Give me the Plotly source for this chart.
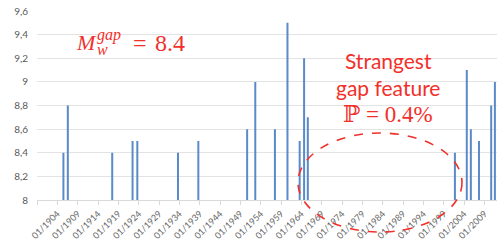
import plotly.graph_objects as go

# ---- data ----
dates = ["1905-07-01", "1906-08-01", "1917-07-01", "1922-07-01", "1923-09-01",
         "1933-09-01", "1938-09-01", "1950-09-01", "1952-09-01", "1957-07-01",
         "1960-08-01", "1963-08-01", "1964-09-01", "1965-08-01", "2001-10-01",
         "2004-09-01", "2005-09-01", "2007-09-01", "2010-09-01", "2011-08-01"]
magnitudes = [8.4, 8.8, 8.4, 8.5, 8.5,
              8.4, 8.5, 8.6, 9.0, 8.6,
              9.5, 8.5, 9.2, 8.7, 8.4,
              9.1, 8.6, 8.5, 8.8, 9.0]
x_tick_vals = ["1899-01-01"] + [f"{y}-01-01" for y in range(1904, 2010, 5)]
x_tick_text = [""] + [f"01/{y}" for y in range(1904, 2010, 5)]
y_tick_vals = [8.0, 8.2, 8.4, 8.6, 8.8, 9.0, 9.2, 9.4, 9.6]
y_tick_text = ["8", "8,2", "8,4", "8,6", "8,8", "9", "9,2", "9,4", "9,6"]

W, H = 497, 242
L, R, T, B = 37, 0, 11, 42
PW, PH = W - L - R, H - T - B

def px(x):
    return (x - L) / PW

def py(y):
    return (H - B - y) / PH

RED = "#f2302b"
BLUE = "#5b8ac8"

fig = go.Figure()
fig.add_trace(go.Bar(
    x=dates, y=magnitudes, base=0,
    marker=dict(color=BLUE, line=dict(width=0)),
    width=180 * 86400000,
))

fig.update_layout(
    width=W, height=H,
    margin=dict(l=L, r=R, t=T, b=B, autoexpand=False),
    paper_bgcolor="white", plot_bgcolor="white",
    showlegend=False,
    font=dict(family="Lato, Liberation Sans, sans-serif", color="#595959", size=9),
    xaxis=dict(
        type="date",
        range=["1899-01-01", "2012-02-05"],
        tickvals=x_tick_vals, ticktext=x_tick_text,
        tickangle=-45,
        showgrid=False,
        showline=True, linecolor="#d9d9d9", linewidth=1,
        ticks="outside", ticklen=4, tickcolor="#d9d9d9",
        tickfont=dict(size=9, color="#666666"),
        zeroline=False,
    ),
    yaxis=dict(
        range=[8, 9.6],
        tickvals=y_tick_vals, ticktext=y_tick_text,
        showgrid=True, gridcolor="#e3e3e3", gridwidth=1,
        zeroline=False, showline=False, ticks="",
        ticklabelstandoff=8,
        tickfont=dict(size=10, color="#595959"),
    ),
)

serif = "Liberation Serif, DejaVu Serif, serif"
ann = []
ann.append(dict(text="<i>M</i>", x=px(74), y=py(42), xanchor="left", yanchor="middle",
                font=dict(family=serif, size=22, color=RED)))
ann.append(dict(text="<i>gap</i>", x=px(95), y=py(35), xanchor="left", yanchor="middle",
                font=dict(family=serif, size=16, color=RED)))
ann.append(dict(text="<i>w</i>", x=px(95), y=py(49), xanchor="left", yanchor="middle",
                font=dict(family=serif, size=16, color=RED)))
ann.append(dict(text="=", x=px(131), y=py(43), xanchor="left", yanchor="middle",
                font=dict(family=serif, size=24, color=RED)))
ann.append(dict(text="8.4", x=px(153), y=py(43), xanchor="left", yanchor="middle",
                font=dict(family=serif, size=24, color=RED)))
ann.append(dict(text="Strangest<br>gap feature", x=px(388), y=py(74), xanchor="center",
                yanchor="middle", align="center",
                font=dict(family="Lato, Liberation Sans, sans-serif", size=21, color=RED)))
ann.append(dict(text="\u2119 = 0.4%", x=px(388), y=py(114), xanchor="center",
                yanchor="middle",
                font=dict(family=serif, size=23, color=RED)))
for a in ann:
    a.update(xref="paper", yref="paper", showarrow=False)
fig.update_layout(annotations=ann)

fig.add_shape(type="circle", xref="paper", yref="paper",
              x0=px(298), x1=px(462), y0=py(232), y1=py(133),
              line=dict(color=RED, width=1.6, dash="dash"), layer="above")

fig.write_html(
    "out.html",
    config={"displayModeBar": False},
    post_script="document.body.style.margin='0';document.body.style.padding='0';",
)
